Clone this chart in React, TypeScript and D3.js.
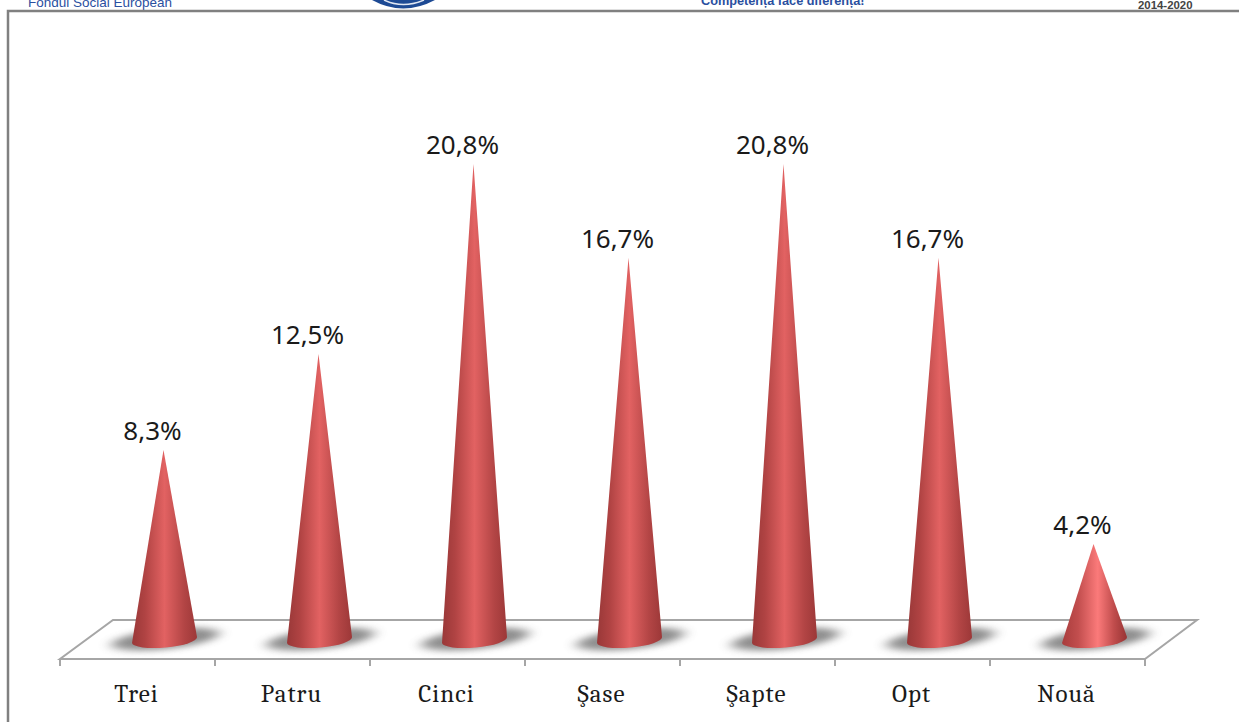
import React from "react";
import * as d3 from "d3";

const categories = ["Trei", "Patru", "Cinci", "Şase", "Şapte", "Opt", "Nouă"];
const values = [8.3, 12.5, 20.8, 16.7, 20.8, 16.7, 4.2];
const valueLabels = ["8,3%", "12,5%", "20,8%", "16,7%", "20,8%", "16,7%", "4,2%"];

const width = 1239;
const height = 722;
const floorFront = 659;
const floorBack = 620;
const depthX = 53;
const baseY = 640;
const coneRx = 32.5;
const coneRy = 7.5;

const x = d3.scaleBand<string>().domain(categories).range([60, 1145]);
const y = d3.scaleLinear().domain([0, 20.8]).range([baseY, 164]);

const conePath = (cx: number, tipY: number) =>
  `M${cx - 1},${tipY}L${cx - coneRx},${baseY + 3}` +
  `A${coneRx},${coneRy} -5 0 0 ${cx + coneRx},${baseY - 3}Z`;

const Cone = ({ name, value, label, i }) => {
  const band = x(name)!;
  const center = band + x.step() / 2;
  const cx = center + 27;
  const tipY = y(value);
  return (
    <g>
      <ellipse
        cx={cx + 1}
        cy={baseY - 1}
        rx={54}
        ry={10}
        fill="#7a7a7a"
        opacity={0.85}
        filter="url(#soft)"
        transform={`rotate(-6 ${cx + 1} ${baseY})`}
      />
      <path d={conePath(cx, tipY)} fill={i === 6 ? "url(#coneLight)" : "url(#cone)"} />
      <text x={cx - 12} y={tipY - 10} textAnchor="middle" fontSize={26} fill="#1a1a1a" fontFamily="'Noto Sans', sans-serif">
        {label}
      </text>
      <text x={center - 1} y={702} textAnchor="middle" fontSize={25} letterSpacing={1} fill="#1a1a1a" style={{ fontFamily: "Cambria, 'Liberation Serif', serif" }}>
        {name}
      </text>
    </g>
  );
};

const App = () => {
  const ticks = [...categories.map(c => x(c)!), x.range()[1]];
  return (
    <svg width={width} height={height} style={{ position: "fixed", left: 0, top: 0, background: "#fff" }}>
      <defs>
        <linearGradient id="cone" x1="0" x2="1" y1="0" y2="0">
          <stop offset="0" stopColor="#993838" />
          <stop offset="0.2" stopColor="#b04343" />
          <stop offset="0.5" stopColor="#e26262" />
          <stop offset="0.8" stopColor="#b34545" />
          <stop offset="1" stopColor="#9c3838" />
        </linearGradient>
        <linearGradient id="coneLight" x1="0" x2="1" y1="0" y2="0">
          <stop offset="0" stopColor="#a83c3c" />
          <stop offset="0.25" stopColor="#c24e4e" />
          <stop offset="0.55" stopColor="#fb7a7a" />
          <stop offset="0.8" stopColor="#c04c4c" />
          <stop offset="1" stopColor="#973434" />
        </linearGradient>
        <filter id="soft" x="-30%" y="-150%" width="160%" height="400%">
          <feGaussianBlur stdDeviation="7 3" />
        </filter>
      </defs>

      {/* header strip, cropped at the top of the page */}
      <text x={28} y={6.5} fontSize={13.5} fill="#2a4fa0" fontFamily="'Liberation Sans', Arial, sans-serif">Fondul Social European</text>
      <path d="M372,0 Q403,17 435,0Z" fill="#1d4a94" />
      <path d="M384,0 Q403,9 424,0" fill="none" stroke="#dfe6f2" strokeWidth={1.5} />
      <text x={701} y={5} fontSize={12.7} fontWeight="bold" fill="#2a4fa0" fontFamily="'Liberation Sans', Arial, sans-serif">Competența face diferența!</text>
      <text x={1138} y={9} fontSize={11.4} fontWeight="bold" fill="#444" fontFamily="'Liberation Sans', Arial, sans-serif">2014-2020</text>
      <path d="M8,722V11H1239" fill="none" stroke="#808080" strokeWidth={2.5} />

      {/* floor */}
      <path
        d={`M60,${floorFront}H1145L${1145 + depthX - 1},${floorBack}H${60 + depthX}Z`}
        fill="#fff"
        stroke="#a6a6a6"
        strokeWidth={2}
      />
      {ticks.map((t, i) => (
        <line key={i} x1={t} x2={t} y1={floorFront} y2={floorFront + 7} stroke="#a6a6a6" strokeWidth={2} />
      ))}

      {categories.map((c, i) => (
        <Cone key={c} name={c} value={values[i]} label={valueLabels[i]} i={i} />
      ))}
    </svg>
  );
};

export default App;
